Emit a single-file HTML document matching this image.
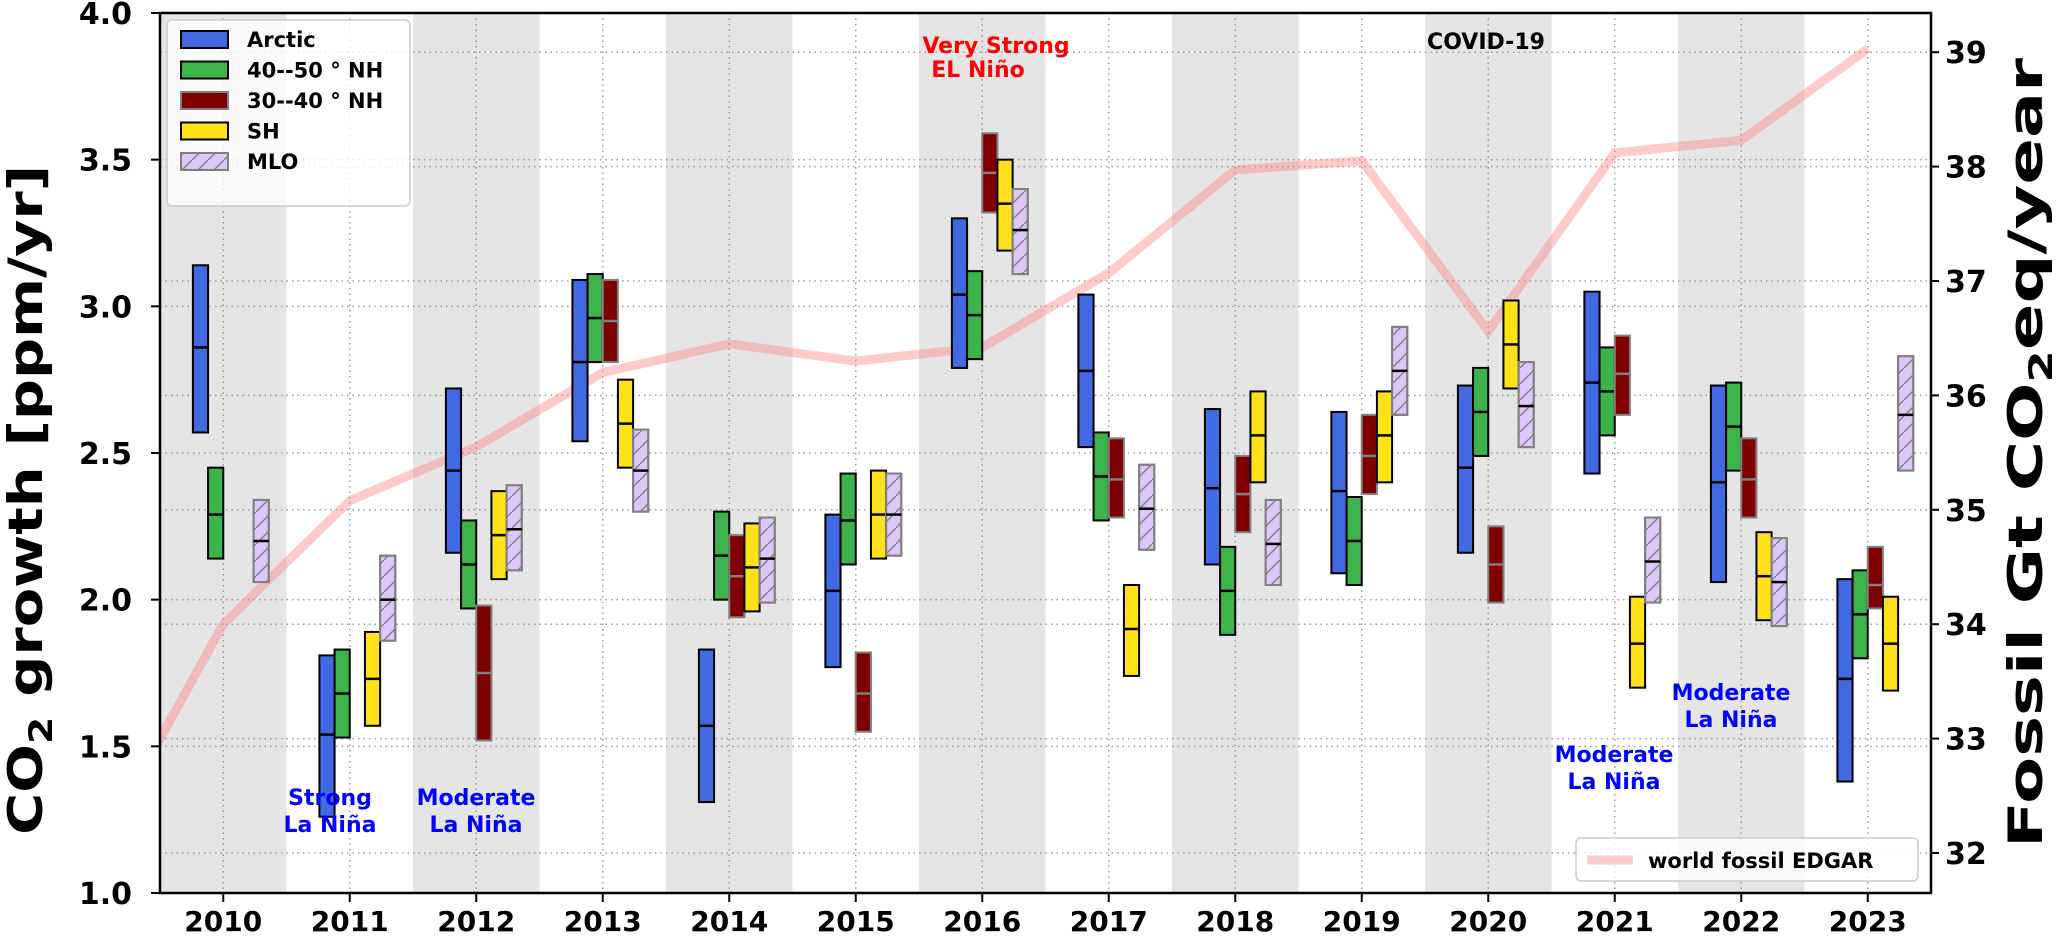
<!DOCTYPE html>
<html><head><meta charset="utf-8"><style>
html,body{margin:0;padding:0;background:#fff;}
svg{display:block;font-family:"DejaVu Sans","Liberation Sans",sans-serif;}
</style></head><body>
<svg id="chart" width="2066" height="943" viewBox="0 0 2066 943" xmlns="http://www.w3.org/2000/svg">
<defs>
<pattern id="hatch" patternUnits="userSpaceOnUse" width="16" height="16">
<path d="M0,16 L16,0" stroke="#808080" stroke-width="1.5"/>
</pattern>
<clipPath id="plotclip"><rect x="160" y="13" width="1771" height="880"/></clipPath>
</defs>
<g id="bands"></g>
<g id="grid"></g>
<g id="fossil" clip-path="url(#plotclip)"></g>
<g id="boxes"></g>
<g id="axes"></g>
<g id="annot"></g>
<g id="legend"></g>
</svg>
<script>
const years=[2010,2011,2012,2013,2014,2015,2016,2017,2018,2019,2020,2021,2022,2023];
const arcticLow=[2.57,1.26,2.16,2.54,1.31,1.77,2.79,2.52,2.12,2.09,2.16,2.43,2.06,1.38];
const arcticMid=[2.86,1.54,2.44,2.81,1.57,2.03,3.04,2.78,2.38,2.37,2.45,2.74,2.40,1.73];
const arcticHigh=[3.14,1.81,2.72,3.09,1.83,2.29,3.30,3.04,2.65,2.64,2.73,3.05,2.73,2.07];
const nh4050Low=[2.14,1.53,1.97,2.81,2.00,2.12,2.82,2.27,1.88,2.05,2.49,2.56,2.44,1.80];
const nh4050Mid=[2.29,1.68,2.12,2.96,2.15,2.27,2.97,2.42,2.03,2.20,2.64,2.71,2.59,1.95];
const nh4050High=[2.45,1.83,2.27,3.11,2.30,2.43,3.12,2.57,2.18,2.35,2.79,2.86,2.74,2.10];
const nh3040Low=[null,null,1.52,2.81,1.94,1.55,3.32,2.28,2.23,2.36,1.99,2.63,2.28,1.97];
const nh3040Mid=[null,null,1.75,2.95,2.08,1.68,3.455,2.41,2.36,2.49,2.12,2.77,2.41,2.05];
const nh3040High=[null,null,1.98,3.09,2.22,1.82,3.59,2.55,2.49,2.63,2.25,2.90,2.55,2.18];
const shLow=[null,1.57,2.07,2.45,1.96,2.14,3.19,1.74,2.40,2.40,2.72,1.70,1.93,1.69];
const shMid=[null,1.73,2.22,2.60,2.11,2.29,3.35,1.90,2.56,2.56,2.87,1.85,2.08,1.85];
const shHigh=[null,1.89,2.37,2.75,2.26,2.44,3.50,2.05,2.71,2.71,3.02,2.01,2.23,2.01];
const mloLow=[2.06,1.86,2.10,2.30,1.99,2.15,3.11,2.17,2.05,2.63,2.52,1.99,1.91,2.44];
const mloMid=[2.20,2.00,2.24,2.44,2.14,2.29,3.26,2.31,2.19,2.78,2.66,2.13,2.06,2.63];
const mloHigh=[2.34,2.15,2.39,2.58,2.28,2.43,3.40,2.46,2.34,2.93,2.81,2.28,2.21,2.83];
const fossilYears=[2009,2010,2011,2012,2013,2014,2015,2016,2017,2018,2019,2020,2021,2022,2023];
const fossilValues=[32.0,34.0,35.08,35.55,36.2,36.45,36.3,36.42,37.07,37.97,38.05,36.56,38.12,38.23,39.03];
const leftTicks=[1.0,1.5,2.0,2.5,3.0,3.5,4.0];
const leftTickLabels=["1.0","1.5","2.0","2.5","3.0","3.5","4.0"];
const rightTicks=[32,33,34,35,36,37,38,39];
const rightTickLabels=["32","33","34","35","36","37","38","39"];

const NS="http://www.w3.org/2000/svg";
const X0=160,X1=1931,Y0=13,Y1=893;
const xs=y=>X0+(y-2009.5)/14*(X1-X0);
const yl=v=>Y1-(v-1)/3*(Y1-Y0);
const yr=v=>853-(v-32)*114.4;
function mk(tag,attrs,parent,text){const e=document.createElementNS(NS,tag);for(const k in attrs)e.setAttribute(k,attrs[k]);if(text!==undefined)e.textContent=text;parent.appendChild(e);return e;}
const G=id=>document.getElementById(id);

years.forEach(y=>{if(y%2===0){const r=mk('rect',{x:xs(y-0.5),y:Y0,width:xs(y+0.5)-xs(y-0.5),height:Y1-Y0,fill:'#e5e5e5'},G('bands'));

}});
leftTicks.forEach(v=>{const l=mk('line',{x1:X0,x2:X1,y1:yl(v),y2:yl(v),stroke:'#999',"stroke-width":1.5,"stroke-dasharray":"1.5,4"},G('grid'));

});
rightTicks.forEach(v=>{const l=mk('line',{x1:X0,x2:X1,y1:yr(v),y2:yr(v),stroke:'#999',"stroke-width":1.5,"stroke-dasharray":"1.5,4"},G('grid'));

});
years.forEach(y=>{const l=mk('line',{x1:xs(y),x2:xs(y),y1:Y0,y2:Y1,stroke:'#999',"stroke-width":1.5,"stroke-dasharray":"1.5,4"},G('grid'));

});
const pts=fossilYears.map((y,i)=>xs(y)+','+yr(fossilValues[i])).join(' ');
const fl=mk('polyline',{points:pts,fill:'none',stroke:'#ff8080',"stroke-opacity":0.42,"stroke-width":9,"stroke-linejoin":"miter"},G('fossil'));


const series=[
 {name:'arctic',low:arcticLow,mid:arcticMid,high:arcticHigh,fill:'#4169e1',edge:'#000',med:'#000'},
 {name:'nh-40-50',low:nh4050Low,mid:nh4050Mid,high:nh4050High,fill:'#3cb44b',edge:'#000',med:'#000'},
 {name:'nh-30-40',low:nh3040Low,mid:nh3040Mid,high:nh3040High,fill:'#7f0000',edge:'#808080',med:'#808080'},
 {name:'sh',low:shLow,mid:shMid,high:shHigh,fill:'#ffe119',edge:'#000',med:'#000'},
 {name:'mlo',low:mloLow,mid:mloMid,high:mloHigh,fill:'#dcc6fa',edge:'#808080',med:'#000',hatch:true}];
const W=0.12;
series.forEach((s,si)=>{years.forEach((y,i)=>{if(s.low[i]==null)return;
 const xa=xs(y+(si-2)*W),xb=xs(y+(si-1)*W),ya=yl(s.high[i]),yb=yl(s.low[i]);
 const r=mk('rect',{x:xa,y:ya,width:xb-xa,height:yb-ya,fill:s.fill,stroke:s.edge,"stroke-width":2},G('boxes'));
 
 
 if(s.hatch){const h=mk('rect',{x:xa,y:ya,width:xb-xa,height:yb-ya,fill:'url(#hatch)',stroke:s.edge,"stroke-width":2},G('boxes'));
 
 }
 const m=mk('line',{x1:xa,x2:xb,y1:yl(s.mid[i]),y2:yl(s.mid[i]),stroke:s.med,"stroke-width":2.5},G('boxes'));
 
 });});
const ax=G('axes');
mk('rect',{x:X0,y:Y0,width:X1-X0,height:Y1-Y0,fill:'none',stroke:'#000',"stroke-width":2.5},ax);
leftTicks.forEach((v,i)=>{mk('line',{x1:X0-9,x2:X0,y1:yl(v),y2:yl(v),stroke:'#000',"stroke-width":2},ax);
 const t=mk('text',{x:X0-28,y:yl(v)+11,"text-anchor":"end","font-size":30,"font-weight":"bold"},ax,leftTickLabels[i]);
 
 });
rightTicks.forEach((v,i)=>{mk('line',{x1:X1,x2:X1+8,y1:yr(v),y2:yr(v),stroke:'#000',"stroke-width":2},ax);
 const t=mk('text',{x:X1+14,y:yr(v)+11,"text-anchor":"start","font-size":30,"font-weight":"bold"},ax,rightTickLabels[i]);
 
 });
years.forEach(y=>{mk('line',{x1:xs(y),x2:xs(y),y1:Y1,y2:Y1+9,stroke:'#000',"stroke-width":2},ax);
 const t=mk('text',{x:xs(y),y:931,"text-anchor":"middle","font-size":28,"font-weight":"bold"},ax,String(y));
 
 });
</script>
<script>
const a=document.getElementById('annot');
function txt(x,y,s,c,fs){const t=document.createElementNS("http://www.w3.org/2000/svg",'text');t.setAttribute('x',x);t.setAttribute('y',y);t.setAttribute('fill',c);t.setAttribute('font-size',fs);t.setAttribute('font-weight','bold');t.setAttribute('text-anchor','middle');t.textContent=s;a.appendChild(t);return t;}
let t;
t=txt(42,500,'','#000',47);
t.setAttribute('transform','rotate(-90 42 500)');
t.setAttribute('textLength','670');
t.setAttribute('lengthAdjust','spacingAndGlyphs');
t.innerHTML='CO<tspan font-size="32" dy="10">2</tspan><tspan dy="-10"> growth [ppm/yr]</tspan>';


t=txt(2042,453,'','#000',47);
t.setAttribute('transform','rotate(-90 2042 453)');
t.setAttribute('textLength','790');
t.setAttribute('lengthAdjust','spacingAndGlyphs');
t.innerHTML='Fossil Gt CO<tspan font-size="32" dy="10">2</tspan><tspan dy="-10">eq/year</tspan>';


const ann=[[996,53,'Very Strong','#f00'],[978,77,'EL Niño','#f00'],[1486,49,'COVID-19','#000'],
[330,805,'Strong','#00f'],[330,832,'La Niña','#00f'],[476,805,'Moderate','#00f'],[476,832,'La Niña','#00f'],
[1614,762,'Moderate','#00f'],[1614,789,'La Niña','#00f'],[1731,700,'Moderate','#00f'],[1731,727,'La Niña','#00f']];
ann.forEach(q=>{const e=txt(q[0],q[1],q[2],q[3],22);

});
const lg=document.getElementById('legend');
function el(tag,at){const e=document.createElementNS("http://www.w3.org/2000/svg",tag);for(const k in at)e.setAttribute(k,at[k]);lg.appendChild(e);return e;}
let b=el('rect',{x:167,y:20,width:243,height:186,rx:5,fill:'#fff','fill-opacity':0.8,stroke:'#ccc','stroke-width':1.5});


const li=[['Arctic','#4169e1','#000'],['40--50 ° NH','#3cb44b','#000'],['30--40 ° NH','#7f0000','#808080'],['SH','#ffe119','#000'],['MLO','#dcc6fa','#808080']];
li.forEach((q,i)=>{const y=31+i*30.5;
 const r=el('rect',{x:181,y:y,width:47,height:17,fill:q[1],stroke:q[2],'stroke-width':2});
 
 
 if(q[0]==='MLO'){el('rect',{x:181,y:y,width:47,height:17,fill:'url(#hatch)',stroke:q[2],'stroke-width':2});}
 const tt=el('text',{x:247,y:y+16,'font-size':21,'font-weight':'bold'});tt.textContent=q[0];
 
 });
b=el('rect',{x:1576,y:838,width:342,height:43,rx:5,fill:'#fff','fill-opacity':0.8,stroke:'#ccc','stroke-width':1.5});


el('line',{x1:1587,x2:1633,y1:860,y2:860,stroke:'#ff8080','stroke-opacity':0.42,'stroke-width':9});
t=el('text',{x:1648,y:868,'font-size':21,'font-weight':'bold'});t.textContent='world fossil EDGAR';


</script>
</body></html>
